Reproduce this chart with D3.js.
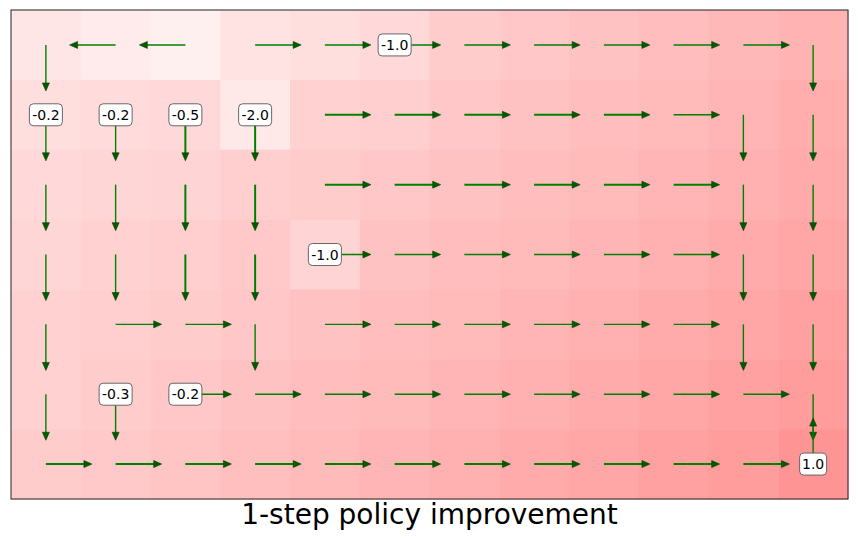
<!DOCTYPE html>
<html lang="en">
<head>
  <meta charset="UTF-8">
  <title>1-step policy improvement</title>
  <style>
    body { margin: 0; background: #fff; }
    text { font-family: 'DejaVu Sans', sans-serif; }
  </style>
</head>
<body>
  <svg id="mainsvg" width="858" height="538"></svg>
  <script src="https://cdn.jsdelivr.net/npm/d3@7/dist/d3.min.js"></script>
  <script>
    // grid size
    const cols = d3.range(12)
    const rows = d3.range(7)

    // state value (shade of red), one row per grid row
    const stateValue = [
      [0.10, 0.08, 0.06, 0.11, 0.13, 0.15, 0.20, 0.22, 0.24, 0.26, 0.28, 0.30],
      [0.13, 0.14, 0.15, 0.09, 0.18, 0.19, 0.22, 0.24, 0.26, 0.27, 0.29, 0.32],
      [0.15, 0.16, 0.17, 0.19, 0.20, 0.22, 0.24, 0.26, 0.27, 0.29, 0.31, 0.33],
      [0.16, 0.18, 0.19, 0.21, 0.17, 0.24, 0.26, 0.27, 0.29, 0.31, 0.33, 0.35],
      [0.18, 0.19, 0.20, 0.22, 0.24, 0.26, 0.27, 0.29, 0.31, 0.33, 0.35, 0.37],
      [0.18, 0.20, 0.22, 0.24, 0.26, 0.27, 0.29, 0.31, 0.33, 0.35, 0.37, 0.39],
      [0.20, 0.21, 0.23, 0.25, 0.27, 0.29, 0.31, 0.33, 0.35, 0.37, 0.39, 0.42]
    ]

    // greedy action per cell: R right, L left, D down, U up
    const policy = [
      'DLLRRRRRRRRD',
      'DDDDRRRRRRDD',
      'DDDDRRRRRRDD',
      'DDDDRRRRRRDD',
      'DRRDRRRRRRDD',
      'DDRRRRRRRRRD',
      'RRRRRRRRRRRU'
    ]

    // arrow thickness per cell (1 thin, 2 thick)
    const arrowWeight = [
      [1, 1, 1, 1, 1, 1, 1, 1, 1, 1, 1, 1],
      [1, 1, 2, 2, 2, 2, 2, 2, 2, 1, 1, 1],
      [1, 1, 2, 2, 2, 2, 2, 2, 2, 2, 1, 1],
      [1, 1, 2, 2, 1, 1, 1, 1, 1, 1, 1, 1],
      [1, 1, 1, 1, 1, 1, 1, 1, 1, 1, 1, 1],
      [1, 1, 1, 1, 1, 1, 1, 1, 1, 1, 1, 1],
      [2, 2, 2, 2, 2, 2, 2, 2, 2, 2, 2, 1]
    ]

    // rewards written on cells
    const rewardRows = [0, 1, 1, 1, 1, 3, 5, 5, 6]
    const rewardCols = [5, 0, 1, 2, 3, 4, 1, 2, 11]
    const rewardText = ['-1.0', '-0.2', '-0.2', '-0.5', '-2.0', '-1.0', '-0.3', '-0.2', '1.0']

    const svg = d3.select('#mainsvg')
    const margin = { top: 10, left: 11, right: 10, bottom: 39 }
    const innerWidth = +svg.attr('width') - margin.left - margin.right
    const innerHeight = +svg.attr('height') - margin.top - margin.bottom

    const xScale = d3.scaleBand().domain(cols).range([0, innerWidth])
    const yScale = d3.scaleBand().domain(rows).range([0, innerHeight])
    const color = d3.scaleLinear().domain([0, 1]).range(['#ffffff', '#ff0000'])

    const g = svg.append('g')
      .attr('transform', `translate(${margin.left}, ${margin.top})`)

    // heatmap cells
    const cells = []
    rows.forEach(r => cols.forEach(c => cells.push({ r, c, v: stateValue[r][c], a: policy[r][c], w: arrowWeight[r][c] })))

    g.selectAll('rect.cell').data(cells).join('rect')
      .attr('class', 'cell')
      .attr('x', d => xScale(d.c))
      .attr('y', d => yScale(d.r))
      .attr('width', xScale.bandwidth() + 0.5)
      .attr('height', yScale.bandwidth() + 0.5)
      .attr('fill', d => color(d.v))

    // arrows
    const dirs = { R: [1, 0], L: [-1, 0], D: [0, 1], U: [0, -1] }
    const len = xScale.bandwidth() * 0.66
    const headLen = 8, headHalf = 3.5

    const arrows = g.selectAll('g.arrow').data(cells).join('g')
      .attr('class', 'arrow')
      .attr('transform', d => {
        const [dx, dy] = dirs[d.a]
        const angle = Math.atan2(dy, dx) * 180 / Math.PI
        return `translate(${xScale(d.c) + xScale.bandwidth() / 2}, ${yScale(d.r) + yScale.bandwidth() / 2}) rotate(${angle})`
      })
    arrows.append('line')
      .attr('x1', 0).attr('y1', 0)
      .attr('x2', len - headLen + 1).attr('y2', 0)
      .attr('stroke', '#008000')
      .attr('stroke-width', d => d.w === 2 ? 2 : 1.4)
    arrows.append('path')
      .attr('d', `M${len},0 L${len - headLen},${-headHalf} L${len - headLen},${headHalf} Z`)
      .attr('fill', '#005a00')
      .attr('stroke', '#004000')
      .attr('stroke-width', 0.6)

    // reward labels
    const labels = g.selectAll('g.label').data(rewardText).join('g')
      .attr('class', 'label')
      .attr('transform', (d, i) => `translate(${xScale(rewardCols[i]) + xScale.bandwidth() / 2}, ${yScale(rewardRows[i]) + yScale.bandwidth() / 2})`)
    labels.append('rect')
      .attr('x', d => d.length > 3 ? -16.5 : -13.5)
      .attr('y', -11)
      .attr('width', d => d.length > 3 ? 33 : 27)
      .attr('height', 22)
      .attr('rx', 4)
      .attr('fill', '#ffffff')
      .attr('stroke', '#666')
      .attr('stroke-width', 1)
    labels.append('text')
      .text(d => d)
      .attr('text-anchor', 'middle')
      .attr('dy', '0.36em')
      .attr('font-size', 14)
      .attr('fill', '#000')

    // frame
    g.append('rect')
      .attr('width', innerWidth).attr('height', innerHeight)
      .attr('fill', 'none')
      .attr('stroke', '#222')
      .attr('stroke-width', 1)

    // title
    svg.append('text')
      .text('1-step policy improvement')
      .attr('x', margin.left + innerWidth / 2)
      .attr('y', 524)
      .attr('text-anchor', 'middle')
      .attr('font-size', 28)
      .attr('fill', '#000')
  </script>
</body>
</html>
